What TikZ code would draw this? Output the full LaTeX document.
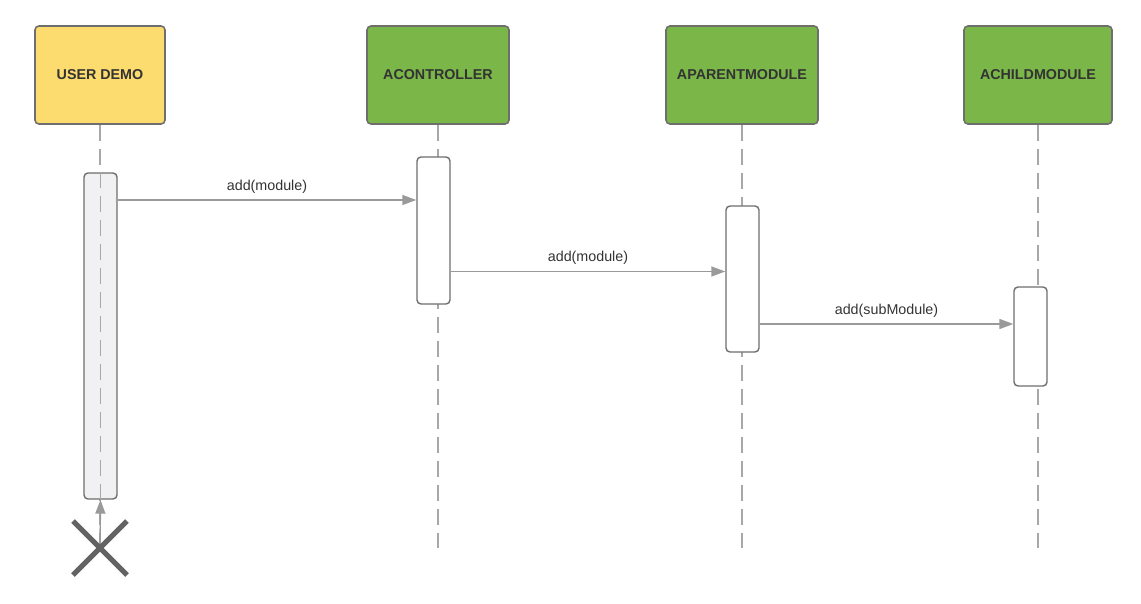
\documentclass[tikz,border=0pt]{standalone}
\usepackage{fontspec}
\setmainfont{Liberation Sans}
\usetikzlibrary{arrows.meta}
\definecolor{headyellow}{HTML}{FDDC6F}
\definecolor{headgreen}{HTML}{7AB648}
\definecolor{edgegray}{HTML}{6E6E6E}
\definecolor{msggray}{HTML}{9A9A9A}
\definecolor{lifegray}{HTML}{A8A8A8}
\definecolor{actgray}{HTML}{F1F1F4}
\definecolor{txt}{HTML}{333333}
\begin{document}
\begin{tikzpicture}[x=1pt,y=-1pt,
  head/.style={draw=edgegray,line width=1.6pt,rounded corners=4pt,
    minimum width=#1,minimum height=98pt,inner sep=0pt,
    font=\fontsize{14.3}{16}\selectfont\bfseries,text=txt},
  act/.style={draw=edgegray,line width=1.4pt,rounded corners=4pt,fill=white,
    minimum width=33pt,inner sep=0pt},
  life/.style={draw=lifegray,line width=1.4pt,dash pattern=on 16pt off 8pt},
  msg/.style={draw=msggray,line width=1.4pt,-{Triangle[length=14pt,width=10pt]}},
  lbl/.style={font=\fontsize{14.3}{16}\selectfont,text=txt,inner sep=0pt},
  killmark/.style={draw=edgegray!90!black,line width=5pt}]
\useasboundingbox (0,0) rectangle (1141,604);

% participant heads
\node[head=130pt,fill=headyellow] (user) at (100,75) {USER DEMO};
\node[head=142pt,fill=headgreen] (ctrl) at (438,75) {ACONTROLLER};
\node[head=152pt,fill=headgreen] (parent) at (742,75) {APARENTMODULE};
\node[head=148pt,fill=headgreen] (child) at (1038,75) {ACHILDMODULE};

% lifeline ends
\coordinate (userend) at (100,548);
\coordinate (ctrlend) at (438,548);
\coordinate (parentend) at (742,548);
\coordinate (childend) at (1038,548);

% lifelines
\draw[life] (user.south) -- (userend);
\draw[life] (ctrl.south) -- (ctrlend);
\draw[life] (parent.south) -- (parentend);
\draw[life] (child.south) -- (childend);

% activation bars
\node[act,fill=actgray,minimum height=326pt] (ua) at (100.5,336) {};
\draw[life] (ua.north) -- (ua.south);
\node[act,minimum height=147pt] (ca) at (433.5,230.5) {};
\node[act,minimum height=146pt] (pa) at (742.5,279) {};
\node[act,minimum height=99pt] (cha) at (1030.5,336.5) {};

% message levels
\coordinate (m1) at (0,200);
\coordinate (m2) at (0,271.5);
\coordinate (m3) at (0,324);

\draw[msg] (ua.east |- m1) -- node[lbl,above=6pt] {add(module)} (ca.west |- m1);
\draw[msg] (ca.east |- m2) -- node[lbl,above=6pt] {add(module)} (pa.west |- m2);
\draw[msg] (pa.east |- m3) -- node[lbl,above=6pt] {add(subModule)} (cha.west |- m3);

% destruction mark and return to the caller
\draw[msg] (userend) -- (ua.south);
\draw[killmark] ([shift={(-27,-27)}]userend) -- ([shift={(27,27)}]userend);
\draw[killmark] ([shift={(-27,27)}]userend) -- ([shift={(27,-27)}]userend);
\end{tikzpicture}
\end{document}
